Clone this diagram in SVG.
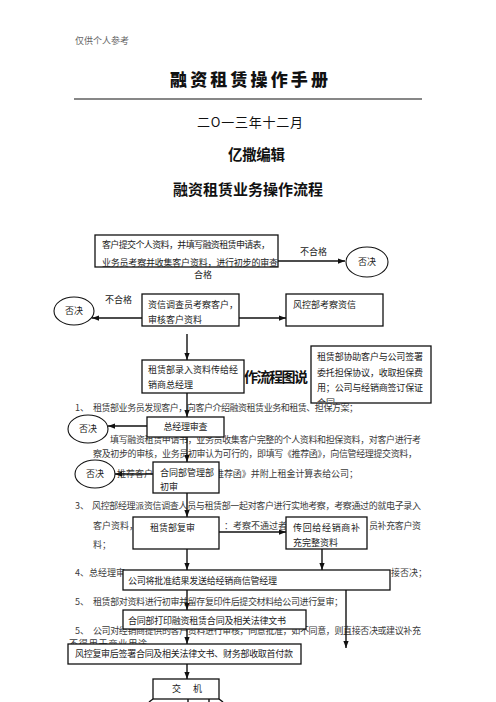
<svg xmlns="http://www.w3.org/2000/svg" width="496" height="702" viewBox="0 0 496 702">
<style>
text{font-family:"Noto Sans CJK SC","Noto Sans",sans-serif;fill:#222}
.b{font-size:9px;fill:#3a3a3a}
.n{font-size:9px;fill:#222}
.box{fill:#fff;stroke:#111;stroke-width:1.3}
.ell{fill:#fff;stroke:#111;stroke-width:1.1}
.c{fill:none;stroke:#111;stroke-width:1.4}
.m{text-anchor:middle}
</style>
<defs>
<marker id="ah" viewBox="0 0 8 6" refX="8" refY="3" markerWidth="7" markerHeight="5.5" markerUnits="userSpaceOnUse" orient="auto"><path d="M0,0 L8,3 L0,6 Z" fill="#111"/></marker>
<clipPath id="c5"><rect x="311" y="346" width="120" height="56"/></clipPath>
</defs>

<!-- page header and titles -->
<text x="75" y="44" style="font-size:9px;fill:#666">仅供个人参考</text>
<text x="170" y="86" textLength="158" style="font-size:17px;font-weight:900;fill:#111">融资租赁操作手册</text>
<line x1="74" y1="99" x2="422" y2="99" stroke="#111" stroke-width="1.1"/>
<text x="197" y="127" textLength="106" style="font-size:13px;fill:#111">二O一三年十二月</text>
<text x="228" y="159.5" textLength="57" style="font-size:14.5px;font-weight:700;fill:#111">亿撒编辑</text>
<text x="173" y="194.7" textLength="150" style="font-size:15px;font-weight:700;fill:#111">融资租赁业务操作流程</text>

<!-- background body text -->
<text x="244" y="382" textLength="64" style="font-size:14px;font-weight:700;fill:#111">作流程图说</text>
<text class="b" x="75" y="411.4">1、</text>
<text class="b" x="93" y="411.4" textLength="265">租赁部业务员发现客户，向客户介绍融资租赁业务和租赁、担保方案；</text>
<text class="b" x="110" y="442.5" textLength="311">填写融资租赁申请书，业务员收集客户完整的个人资料和担保资料，对客户进行考</text>
<text class="b" x="93" y="457" textLength="324">察及初步的审核，业务员初审认为可行的，即填写《推荐函》，向信管经理提交资料，</text>
<text class="b" x="117" y="477.4">推荐客户</text>
<text class="b" x="215" y="477.4" textLength="143">推荐函》并附上租金计算表给公司；</text>
<text class="b" x="75" y="509.4">3、</text>
<text class="b" x="92" y="509.4" textLength="329">风控部经理派资信调查人员与租赁部一起对客户进行实地考察，考察通过的就电子录入</text>
<text class="b" x="93" y="529.4">客户资料，</text>
<text class="b" x="224" y="529.4">：考察不通过者</text>
<text class="b" x="369" y="529.4" textLength="52">员补充客户资</text>
<text class="b" x="93" y="548.4">料；</text>
<text class="b" x="75" y="576.4">4、总经理审</text>
<text class="b" x="391" y="576.4">接否决；</text>
<text class="b" x="75" y="605.4">5、</text>
<text class="b" x="93" y="605.4" textLength="250">租赁部对资料进行初审并留存复印件后提交材料给公司进行复审；</text>
<text class="b" x="75" y="634.4">5、</text>
<text class="b" x="93" y="634.4" textLength="328">公司对经销商提供的客户资料进行审核，同意批准，如不同意，则直接否决或建议补充</text>
<text class="b" x="69" y="646.5" textLength="78">不得用于商业用途</text>

<!-- connectors -->
<g id="connectors">
<line class="c" x1="278" y1="261" x2="345" y2="261" marker-end="url(#ah)"/>
<line class="c" x1="142" y1="318" x2="92" y2="318" marker-end="url(#ah)"/>
<line class="c" x1="239" y1="318" x2="286" y2="318" marker-end="url(#ah)"/>
<line class="c" x1="187" y1="334" x2="187" y2="360" marker-end="url(#ah)"/>
<line class="c" x1="187" y1="393" x2="187" y2="417" marker-end="url(#ah)"/>
<line class="c" x1="147" y1="426" x2="108" y2="426" marker-end="url(#ah)"/>
<line class="c" x1="187" y1="437" x2="187" y2="462" marker-end="url(#ah)"/>
<line class="c" x1="153" y1="474" x2="115" y2="474" marker-end="url(#ah)"/>
<line class="c" x1="187" y1="493" x2="187" y2="517" marker-end="url(#ah)"/>
<line class="c" x1="219" y1="532" x2="286" y2="532" marker-end="url(#ah)"/>
<line class="c" x1="187" y1="549" x2="187" y2="570" marker-end="url(#ah)"/>
<line class="c" x1="322" y1="549" x2="322" y2="570" marker-end="url(#ah)"/>
<line class="c" x1="187" y1="590" x2="187" y2="610" marker-end="url(#ah)"/>
<line class="c" x1="346" y1="590" x2="346" y2="648" marker-end="url(#ah)"/>
<line class="c" x1="187" y1="629" x2="187" y2="644" marker-end="url(#ah)"/>
<line class="c" x1="187" y1="664" x2="187" y2="679" marker-end="url(#ah)"/>
<line class="c" x1="153" y1="699" x2="149" y2="702"/>
<line class="c" x1="219" y1="699" x2="223" y2="702"/>
<line class="c" x1="188" y1="699" x2="188" y2="702"/>
<line class="c" x1="209" y1="699" x2="209" y2="702"/>
</g>

<!-- edge labels -->
<text class="n" x="300" y="255">不合格</text>
<text class="n" x="194" y="278.4">合格</text>
<text class="n" x="105" y="303.4">不合格</text>

<!-- nodes -->
<g id="n-apply">
<rect class="box" x="95" y="235" width="183" height="32"/>
<text class="n" x="102" y="248.4" textLength="168">客户提交个人资料，并填写融资租赁申请表，</text>
<text class="n" x="102" y="265.6" textLength="176">业务员考察并收集客户资料，进行初步的审查</text>
</g>
<g id="n-reject1">
<ellipse class="ell" cx="367" cy="262" rx="21" ry="15"/>
<text class="n m" x="367" y="265.4">否决</text>
</g>
<g id="n-credit">
<rect class="box" x="142" y="294" width="97" height="32"/>
<text class="n" x="148" y="308.4">资信调查员考察客户，</text>
<text class="n" x="148" y="323.4">审核客户资料</text>
</g>
<g id="n-reject2">
<ellipse class="ell" cx="74" cy="311" rx="20" ry="14"/>
<text class="n m" x="74" y="314.4">否决</text>
</g>
<g id="n-risk">
<rect class="box" x="286" y="294" width="97" height="32"/>
<text class="n" x="293" y="308.4">风控部考察资信</text>
</g>
<g id="n-lease-entry">
<rect class="box" x="142" y="360" width="102" height="33"/>
<text class="n" x="148" y="373.4">租赁部录入资料传给经</text>
<text class="n" x="148" y="388.4">销商总经理</text>
</g>
<g id="n-guarantee">
<rect class="box" x="311" y="346" width="120" height="57"/>
<g clip-path="url(#c5)">
<text class="n" x="317" y="360.4" textLength="106">租赁部协助客户与公司签署</text>
<text class="n" x="317" y="376" textLength="106">委托担保协议，收取担保费</text>
<text class="n" x="317" y="390.6" textLength="106">用；公司与经销商签订保证</text>
<text class="n" x="317" y="405.5">合同</text>
</g>
</g>
<g id="n-gm">
<rect class="box" x="147" y="417" width="77" height="20"/>
<text class="n m" x="185.5" y="430" textLength="44">总经理审查</text>
</g>
<g id="n-reject3">
<ellipse class="ell" cx="88" cy="429" rx="20" ry="14"/>
<text class="n m" x="88" y="432.4">否决</text>
</g>
<g id="n-contract-dept">
<rect class="box" x="153" y="462" width="66" height="31"/>
<text class="n" x="160" y="476.4">合同部管理部</text>
<text class="n" x="160" y="490.4">初审</text>
</g>
<g id="n-reject4">
<ellipse class="ell" cx="95" cy="474" rx="20" ry="14"/>
<text class="n m" x="95" y="477.4">否决</text>
</g>
<g id="n-lease-review">
<rect class="box" x="133" y="517" width="86" height="32"/>
<text class="n" x="150" y="531.4">租赁部复审</text>
</g>
<g id="n-return">
<rect class="box" x="286" y="517" width="81" height="32"/>
<text class="n" x="293" y="531.4" textLength="67">传回给经销商补</text>
<text class="n" x="293" y="546.4">充完整资料</text>
</g>
<g id="n-notify">
<rect class="box" x="123" y="570" width="267" height="20"/>
<text class="n" x="128" y="584.4" textLength="149">公司将批准结果发送给经销商信管经理</text>
</g>
<g id="n-print">
<rect class="box" x="123" y="610" width="183" height="19"/>
<text class="n" x="128" y="623.6" textLength="158">合同部打印融资租赁合同及相关法律文书</text>
</g>
<g id="n-sign">
<rect class="box" x="68" y="644" width="233" height="20"/>
<text class="n" x="75" y="657.4" textLength="218">风控复审后签署合同及相关法律文书、财务部收取首付款</text>
</g>
<g id="n-deliver">
<rect class="box" x="153" y="679" width="66" height="20"/>
<text class="n" x="172" y="692.4">交<tspan dx="12">机</tspan></text>
</g>
</svg>
